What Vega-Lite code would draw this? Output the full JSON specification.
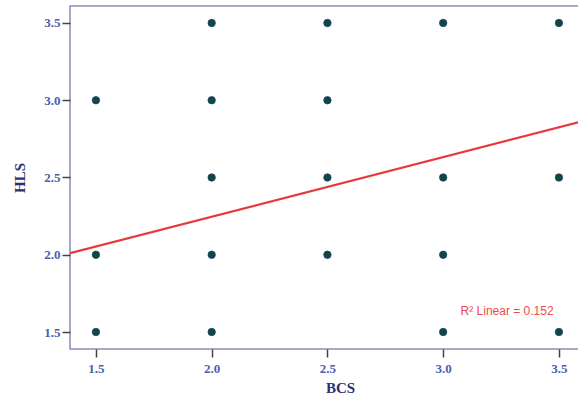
{
  "$schema": "https://vega.github.io/schema/vega-lite/v6.json",
  "width": 540,
  "height": 343,
  "autosize": {"type": "none"},
  "padding": {"left": 70, "top": 6, "right": 0, "bottom": 51},
  "background": "white",
  "config": {
    "view": {"stroke": "#8a8abb", "strokeWidth": 1.5},
    "axis": {
      "grid": false,
      "domain": false,
      "tickColor": "#444444",
      "tickWidth": 1.5,
      "tickSize": 8,
      "labelFont": "Liberation Serif",
      "labelFontWeight": "bold",
      "labelFontSize": 13,
      "labelColor": "#4a5db0",
      "titleFont": "Liberation Serif",
      "titleFontWeight": "bold",
      "titleFontSize": 15,
      "titleColor": "#2e3070"
    }
  },
  "datasets": {
    "pts": [
      {"BCS": 1.5, "HLS": 3.0}, {"BCS": 1.5, "HLS": 2.0}, {"BCS": 1.5, "HLS": 1.5},
      {"BCS": 2.0, "HLS": 3.5}, {"BCS": 2.0, "HLS": 3.0}, {"BCS": 2.0, "HLS": 2.5}, {"BCS": 2.0, "HLS": 2.0}, {"BCS": 2.0, "HLS": 1.5},
      {"BCS": 2.5, "HLS": 3.5}, {"BCS": 2.5, "HLS": 3.0}, {"BCS": 2.5, "HLS": 2.5}, {"BCS": 2.5, "HLS": 2.0},
      {"BCS": 3.0, "HLS": 3.5}, {"BCS": 3.0, "HLS": 2.5}, {"BCS": 3.0, "HLS": 2.0}, {"BCS": 3.0, "HLS": 1.5},
      {"BCS": 3.5, "HLS": 3.5}, {"BCS": 3.5, "HLS": 2.5}, {"BCS": 3.5, "HLS": 1.5}
    ],
    "fit": [
      {"BCS": 1.388, "HLS": 2.01},
      {"BCS": 3.7206, "HLS": 2.91}
    ],
    "label": [
      {"BCS": 3.276, "HLS": 1.636, "text": "R² Linear = 0.152"}
    ]
  },
  "layer": [
    {
      "data": {"name": "fit"},
      "mark": {"type": "line", "color": "#e8383b", "strokeWidth": 2.2, "clip": true},
      "encoding": {
        "x": {"field": "BCS", "type": "quantitative", "scale": {"domain": [1.388, 3.7206], "nice": false, "zero": false},
              "axis": {"values": [1.5, 2.0, 2.5, 3.0, 3.5], "format": ".1f", "title": "BCS", "titlePadding": 5, "labelPadding": 5}},
        "y": {"field": "HLS", "type": "quantitative", "scale": {"domain": [1.39, 3.61], "nice": false, "zero": false},
              "axis": {"values": [1.5, 2.0, 2.5, 3.0, 3.5], "format": ".1f", "title": "HLS", "titlePadding": 16, "labelPadding": 2}}
      }
    },
    {
      "data": {"name": "pts"},
      "mark": {"type": "point", "filled": true, "shape": "circle", "size": 55, "color": "#0c4a3c", "stroke": "#2a3a7a", "strokeWidth": 0.8, "opacity": 1},
      "encoding": {
        "x": {"field": "BCS", "type": "quantitative"},
        "y": {"field": "HLS", "type": "quantitative"}
      }
    },
    {
      "data": {"name": "label"},
      "mark": {"type": "text", "font": "Liberation Sans", "fontSize": 12, "color": "#ee4a4d", "align": "center", "baseline": "middle"},
      "encoding": {
        "x": {"field": "BCS", "type": "quantitative"},
        "y": {"field": "HLS", "type": "quantitative"},
        "text": {"field": "text"}
      }
    }
  ]
}
